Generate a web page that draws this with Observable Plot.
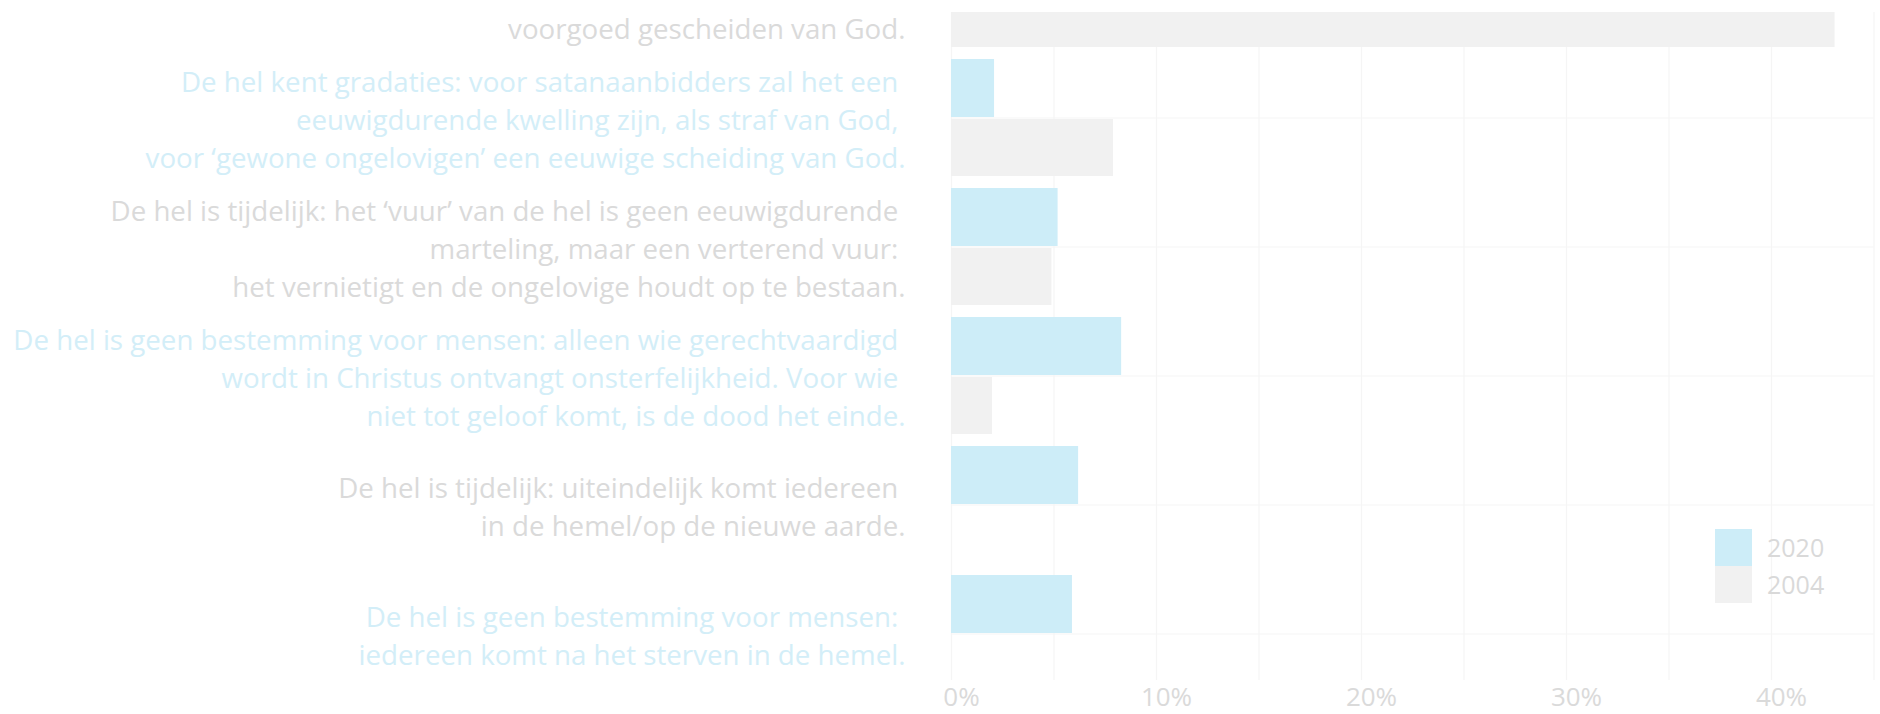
<!DOCTYPE html>
<html>
<head>
<meta charset="utf-8">
<script src="https://cdn.jsdelivr.net/npm/d3@7"></script>
<script src="https://cdn.jsdelivr.net/npm/@observablehq/plot@0.6"></script>
<style>
  html, body { margin: 0; padding: 0; background: #ffffff; }
  body { width: 1880px; height: 714px; overflow: hidden; position: relative; font-family: "Open Sans", sans-serif; }
  #chart { position: absolute; left: 0; top: 0; width: 1880px; height: 714px; overflow: hidden; }
  #chart svg { overflow: hidden; display: block; }
  #legend { position: absolute; left: 1715px; top: 529px; font-family: "Open Sans", sans-serif; }
  #legend .item { display: flex; align-items: center; height: 37px; }
  #legend .sw { width: 37px; height: 37px; display: inline-block; }
  #legend .lab { margin-left: 15px; font-size: 25px; color: #d9d9d9; line-height: 37px; }
</style>
</head>
<body>
<div id="chart"></div>
<div id="legend"></div>
<script>
// ---- data ----
const categories = [
  "\n\nvoorgoed gescheiden van God.",
  "De hel kent gradaties: voor satanaanbidders zal het een \neeuwigdurende kwelling zijn, als straf van God, \nvoor ‘gewone ongelovigen’ een eeuwige scheiding van God.",
  "De hel is tijdelijk: het ‘vuur’ van de hel is geen eeuwigdurende \nmarteling, maar een verterend vuur: \nhet vernietigt en de ongelovige houdt op te bestaan.",
  "De hel is geen bestemming voor mensen: alleen wie gerechtvaardigd \nwordt in Christus ontvangt onsterfelijkheid. Voor wie \nniet tot geloof komt, is de dood het einde.",
  "De hel is tijdelijk: uiteindelijk komt iedereen \nin de hemel/op de nieuwe aarde.",
  "De hel is geen bestemming voor mensen: \niedereen komt na het sterven in de hemel."
];
const values2020 = [38, 2.1, 5.2, 8.3, 6.2, 5.9];
const values2004 = [43.1, 7.9, 4.9, 2.0, 0, 0];
const years = ["2020", "2004"];
const xTicks = [0, 10, 20, 30, 40];
const gridTicks = [0, 5, 10, 15, 20, 25, 30, 35, 40, 45];

// ---- styles ----
const blueBar = "#cdedf8";
const grayBar = "#f1f1f1";
const grayText = "#dadada";
const blueText = "#d3eef8";
const gridColor = "#f5f5f5";

const rows2020 = categories.map((c, i) => ({cat: c, value: values2020[i]}));
const rows2004 = categories.map((c, i) => ({cat: c, value: values2004[i]}));
const labelRows = categories.map((c, i) => ({cat: c, fill: i % 2 === 0 ? grayText : blueText}));

const chart = Plot.plot({
  width: 1880,
  height: 714,
  marginLeft: 951,
  marginRight: 6.5,
  marginTop: 12,
  marginBottom: 34,
  style: {fontFamily: "'Open Sans', sans-serif", background: "transparent", overflow: "hidden"},
  x: {domain: [0, 45], axis: null, label: null},
  y: {domain: categories, range: [-71, 692], paddingInner: 0.094, paddingOuter: 0, axis: null, label: null},
  marks: [
    Plot.gridX(gridTicks, {stroke: gridColor, strokeOpacity: 1, strokeWidth: 1.2}),
    Plot.ruleY(categories, {y: d => d, stroke: gridColor, strokeWidth: 1.2, insetLeft: -26, clip: "frame"}),
    Plot.barX(rows2020, {y: "cat", x: "value", fill: blueBar, insetBottom: 59, insetTop: 0, clip: "frame"}),
    Plot.barX(rows2004, {y: "cat", x: "value", fill: grayBar, insetTop: 60, insetBottom: 0, clip: "frame"}),
    Plot.text(labelRows, {
      y: "cat", text: "cat", fill: "fill",
      frameAnchor: "left", textAnchor: "end", dx: -46,
      fontSize: 27.7, lineHeight: 1.355
    }),
    Plot.axisX(xTicks, {
      tickSize: 0, tickPadding: 7, fontSize: 26, fill: grayText,
      tickFormat: d => d + "%", dx: 10, label: null
    })
  ]
});
document.getElementById("chart").appendChild(chart);

// ---- legend ----
const legend = document.getElementById("legend");
[[years[0], blueBar], [years[1], grayBar]].forEach(([label, color]) => {
  const item = document.createElement("div");
  item.className = "item";
  const sw = document.createElement("span");
  sw.className = "sw";
  sw.style.background = color;
  const lab = document.createElement("span");
  lab.className = "lab";
  lab.textContent = label;
  item.appendChild(sw);
  item.appendChild(lab);
  legend.appendChild(item);
});
</script>
</body>
</html>
